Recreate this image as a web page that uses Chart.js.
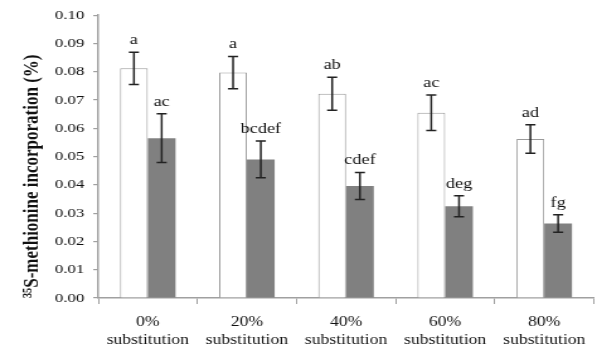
<!DOCTYPE html>
<html>
<head>
<meta charset="utf-8">
<script src="https://cdn.jsdelivr.net/npm/chart.js@4"></script>
<style>
  html, body { margin: 0; padding: 0; background: #fff; overflow: hidden; }
  /* the original figure is stretched sideways, so draw narrow and stretch */
  #wrap { width: 474px; height: 346px; position: relative; transform: scaleX(1.2595); transform-origin: 0 0; }
</style>
</head>
<body>
<div id="wrap"><canvas id="chart"></canvas></div>
<script>
// values
const categories = [['0%', 'substitution'], ['20%', 'substitution'], ['40%', 'substitution'], ['60%', 'substitution'], ['80%', 'substitution']];
const whiteValues = [0.0812, 0.0797, 0.0722, 0.0655, 0.0562];
const whiteErrors = [0.0057, 0.0057, 0.0058, 0.0063, 0.0050];
const whiteLetters = ['a', 'a', 'ab', 'ac', 'ad'];
const greyValues = [0.0565, 0.0490, 0.0396, 0.0324, 0.0263];
const greyErrors = [0.0086, 0.0065, 0.0048, 0.0037, 0.0031];
const greyLetters = ['ac', 'bcdef', 'cdef', 'deg', 'fg'];

const serif = '"Liberation Serif", "Times New Roman", serif';

// error bars + significance letters
const errorBars = {
    id: 'errorBars',
    afterDatasetsDraw(chart) {
        const ctx = chart.ctx;
        const yScale = chart.scales.y;
        chart.data.datasets.forEach((ds, i) => {
            const meta = chart.getDatasetMeta(i);
            meta.data.forEach((bar, j) => {
                const v = ds.data[j];
                const e = ds.errors[j];
                const top = yScale.getPixelForValue(v + e);
                const bottom = yScale.getPixelForValue(v - e);
                ctx.save();
                ctx.strokeStyle = '#222';
                ctx.lineWidth = 1.5;
                ctx.beginPath();
                ctx.moveTo(bar.x, top);
                ctx.lineTo(bar.x, bottom);
                ctx.moveTo(bar.x - 4, top);
                ctx.lineTo(bar.x + 4, top);
                ctx.moveTo(bar.x - 4, bottom);
                ctx.lineTo(bar.x + 4, bottom);
                ctx.stroke();
                ctx.fillStyle = '#111';
                ctx.font = '14.5px ' + serif;
                ctx.textAlign = 'center';
                ctx.textBaseline = 'alphabetic';
                ctx.fillText(ds.letters[j], bar.x, top - 8);
                ctx.restore();
            });
        });
    }
};

new Chart(document.getElementById('chart'), {
    type: 'bar',
    data: {
        labels: categories,
        datasets: [{
            data: whiteValues,
            errors: whiteErrors,
            letters: whiteLetters,
            backgroundColor: '#ffffff',
            borderColor: '#9a9a9a',
            borderWidth: 1
        }, {
            data: greyValues,
            errors: greyErrors,
            letters: greyLetters,
            backgroundColor: '#808080',
            borderColor: '#808080',
            borderWidth: 0
        }]
    },
    options: {
        responsive: true,
        maintainAspectRatio: false,
        animation: false,
        layout: { padding: { top: 14, right: 2, left: 0, bottom: 0 } },
        plugins: {
            legend: { display: false },
            tooltip: { enabled: false }
        },
        datasets: {
            bar: { categoryPercentage: 0.56, barPercentage: 1.0 }
        },
        scales: {
            x: {
                afterFit: scale => { scale.height = 48; },
                grid: { display: true, drawOnChartArea: false, offset: true, tickLength: 6, color: '#a0a0a0', lineWidth: 1 },
                border: { color: '#a0a0a0', width: 1.5 },
                ticks: { color: '#111', font: { family: serif, size: 14, lineHeight: 1.3 }, padding: 9, maxRotation: 0 }
            },
            y: {
                min: 0,
                max: 0.1,
                afterFit: scale => { scale.width = 78; },
                grid: { display: true, drawOnChartArea: false, tickLength: 4, color: '#a0a0a0', lineWidth: 1.2 },
                border: { color: '#a0a0a0', width: 1.5 },
                ticks: {
                    stepSize: 0.01,
                    color: '#111',
                    font: { family: serif, size: 13.5 },
                    padding: 7,
                    callback: v => v.toFixed(2)
                },
                title: {
                    display: true,
                    align: 'start',
                    text: '³⁵S-methionine incorporation (%)',
                    color: '#111',
                    font: { family: serif, size: 17, weight: 'bold' },
                    padding: { top: 15, bottom: 0 }
                }
            }
        }
    },
    plugins: [errorBars]
});
</script>
</body>
</html>
